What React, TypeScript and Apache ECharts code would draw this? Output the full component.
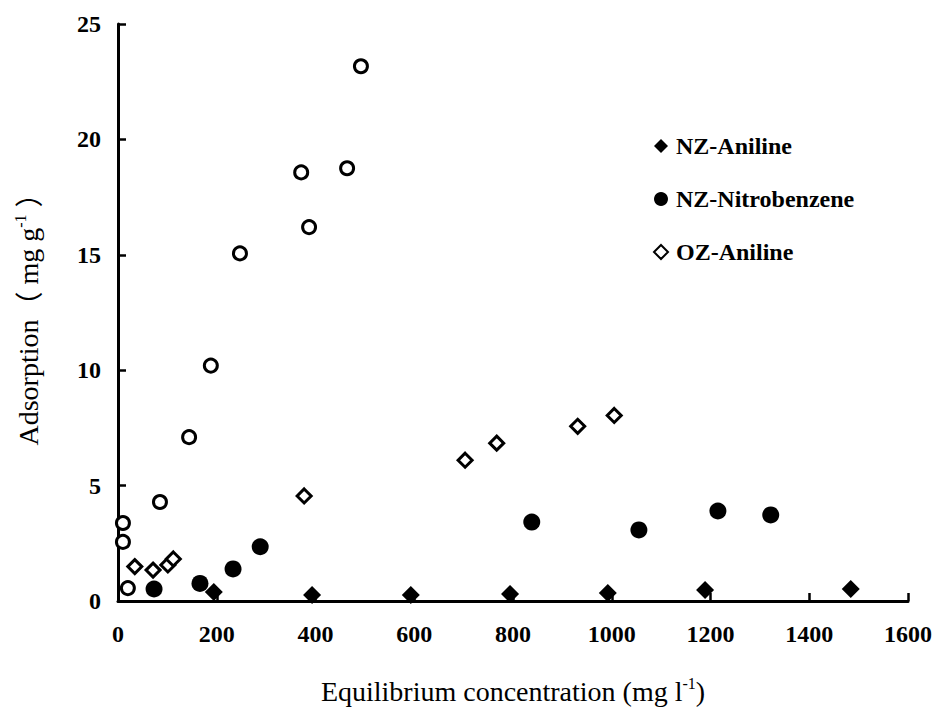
import React, { useEffect, useRef } from "react";
import * as echarts from "echarts";

const xTicks = [0, 200, 400, 600, 800, 1000, 1200, 1400, 1600];
const yTicks = [0, 5, 10, 15, 20, 25];

const legendNames = ["NZ-Aniline", "NZ-Nitrobenzene", "OZ-Aniline"];

const nzAniline: [number, number][] = [
  [194, 0.39], [393, 0.26], [593, 0.26], [794, 0.3], [992, 0.35], [1189, 0.48], [1484, 0.52],
];
const nzNitrobenzene: [number, number][] = [
  [73, 0.52], [166, 0.76], [233, 1.39], [288, 2.35], [838, 3.42], [1055, 3.08], [1215, 3.9], [1322, 3.73],
];
const ozAniline: [number, number][] = [
  [34, 1.49], [71, 1.34], [101, 1.56], [112, 1.82], [377, 4.55], [703, 6.1], [767, 6.84], [931, 7.57], [1005, 8.04],
];
const ozNitrobenzene: [number, number][] = [
  [10, 3.38], [10, 2.56], [20, 0.56], [85, 4.29], [144, 7.1], [188, 10.2], [247, 15.06], [371, 18.57], [387, 16.2], [464, 18.75], [492, 23.17],
];

const FONT = "Liberation Serif";

export default function App() {
  const ref = useRef<HTMLDivElement>(null);
  useEffect(() => {
    if (!ref.current) return;
    const chart = echarts.init(ref.current, undefined, { renderer: "svg" });
    const sup = { fontFamily: FONT, fontSize: 16, color: "#000", verticalAlign: "top", lineHeight: 32, padding: [0, 0, 12, 0] };
    const paren = { fontFamily: "Noto Sans CJK SC", fontSize: 28, color: "#000", lineHeight: 32 };
    chart.setOption({
      animation: false,
      backgroundColor: "#ffffff",
      textStyle: { fontFamily: FONT },
      grid: { left: 118, right: 30, top: 24, bottom: 113, containLabel: false, outerBoundsMode: "none" },
      legend: {
        data: legendNames,
        orient: "vertical",
        left: 648,
        top: 129,
        itemGap: 29,
        itemWidth: 14,
        itemHeight: 14,
        textStyle: { fontFamily: FONT, fontSize: 24, fontWeight: "bold", color: "#000", padding: [0, 0, 0, 3] },
      },
      xAxis: {
        type: "value",
        min: xTicks[0],
        max: xTicks[xTicks.length - 1],
        interval: 200,
        splitLine: { show: false },
        axisLine: { show: true, lineStyle: { color: "#000", width: 3 } },
        axisTick: { show: true, inside: true, length: 8, lineStyle: { color: "#000", width: 2.5 } },
        axisLabel: {
          fontFamily: FONT, fontSize: 24, fontWeight: "bold", color: "#000", margin: 21,
          formatter: (v: number) => String(v),
        },
        name: "Equilibrium concentration (mg l{sup|-1})",
        nameLocation: "middle",
        nameGap: 74,
        nameTextStyle: { fontFamily: FONT, fontSize: 28, color: "#000", lineHeight: 32, rich: { sup } },
      },
      yAxis: {
        type: "value",
        min: yTicks[0],
        max: yTicks[yTicks.length - 1],
        interval: 5,
        splitLine: { show: false },
        axisLine: { show: true, lineStyle: { color: "#000", width: 3 } },
        axisTick: { show: true, inside: true, length: 8, lineStyle: { color: "#000", width: 2.5 } },
        axisLabel: {
          fontFamily: FONT, fontSize: 24, fontWeight: "bold", color: "#000", margin: 17,
          formatter: (v: number) => String(v),
        },
        name: "Adsorption{p|（} mg g{sup|-1} {p|）}",
        nameLocation: "middle",
        nameRotate: 90,
        nameGap: 74,
        nameTextStyle: { fontFamily: FONT, fontSize: 28, color: "#000", lineHeight: 32, rich: { sup, p: paren } },
      },
      series: [
        {
          name: "OZ-Nitrobenzene",
          type: "scatter",
          data: ozNitrobenzene,
          symbol: "circle",
          symbolSize: 13,
          itemStyle: { color: "#ffffff", borderColor: "#000", borderWidth: 3, opacity: 1 },
          z: 3,
        },
        {
          name: "OZ-Aniline",
          type: "scatter",
          data: ozAniline,
          symbol: "diamond",
          symbolSize: 14,
          itemStyle: { color: "#ffffff", borderColor: "#000", borderWidth: 3, opacity: 1 },
          z: 3,
        },
        {
          name: "NZ-Nitrobenzene",
          type: "scatter",
          data: nzNitrobenzene,
          symbol: "circle",
          symbolSize: 17,
          itemStyle: { color: "#000", opacity: 1 },
          z: 4,
        },
        {
          name: "NZ-Aniline",
          type: "scatter",
          data: nzAniline,
          symbol: "diamond",
          symbolSize: 18,
          itemStyle: { color: "#000", opacity: 1 },
          z: 4,
        },
      ],
    });
    return () => chart.dispose();
  }, []);
  return (
    <div
      ref={ref}
      style={{ position: "fixed", left: 0, top: 0, width: 938, height: 714, background: "#fff" }}
    />
  );
}
